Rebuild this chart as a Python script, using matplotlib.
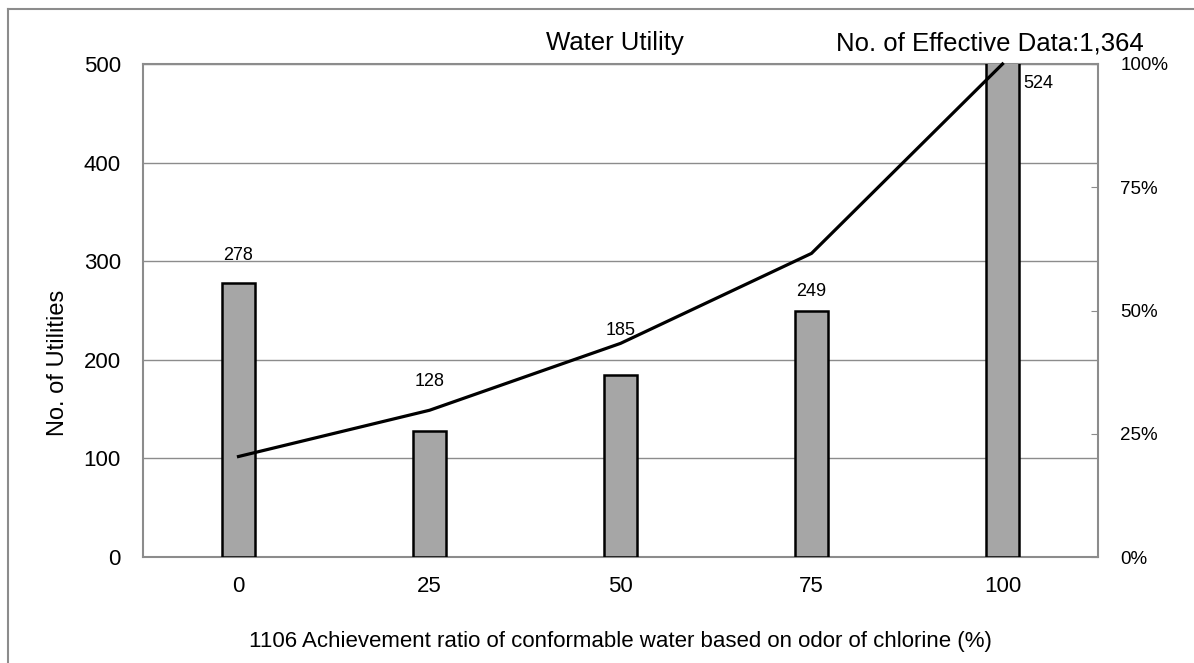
import matplotlib
matplotlib.use("Agg")
import matplotlib.pyplot as plt
from matplotlib.lines import Line2D
import numpy

plt.rcParams['font.family'] = ['Liberation Sans', 'Noto Sans CJK JP', 'DejaVu Sans']

categories = ['0', '25', '50', '75', '100']
counts = [278, 128, 185, 249, 524]
total = 1364
# how far above each bar the count label sits (in utilities)
label_lift = [28, 50, 45, 20, 0]

cum_ratio = numpy.cumsum(counts) / total * 100

fig = plt.figure(figsize=(11.94, 6.63), dpi=100)
ax = fig.add_axes([143 / 1194, 106 / 663, 955 / 1194, 493 / 663])

x = numpy.arange(len(categories))
ax.bar(x, counts, width=0.17, color='#a6a6a6', edgecolor='black', linewidth=1.8, zorder=3)
ax.set_xlim(-0.5, len(categories) - 0.5)
ax.set_ylim(0, 500)
ax.set_yticks([0, 100, 200, 300, 400, 500])
ax.set_xticks(x)
ax.set_xticklabels(categories)
ax.yaxis.grid(True, color='#8c8c8c', linewidth=1.0, zorder=0)
ax.set_axisbelow(True)
ax.tick_params(axis='y', length=0, labelsize=16, pad=16)
ax.tick_params(axis='x', length=0, labelsize=16, pad=14)
for s in ax.spines.values():
    s.set_color('#8c8c8c')
    s.set_linewidth(1.5)

for i, v in enumerate(counts):
    if v > 500:
        ax.text(i + 0.11, 480, str(v), ha='left', va='center', fontsize=13, zorder=5)
    else:
        ax.text(i, v + label_lift[i], str(v), ha='center', va='center', fontsize=13, zorder=5)

ax2 = ax.twinx()
ax2.plot(x, cum_ratio, color='black', linewidth=2.3, zorder=4, clip_on=False)
ax2.set_ylim(0, 100)
ax2.set_yticks([0, 25, 50, 75, 100])
ax2.set_yticklabels(['0%', '25%', '50%', '75%', '100%'])
ax2.tick_params(axis='y', direction='in', length=5, color='#8c8c8c', labelsize=13.5, pad=16)
for s in ax2.spines.values():
    s.set_visible(False)

fig.text(615 / 1194, 1 - 43 / 663, 'Water Utility', ha='center', va='center', fontsize=18.5)
fig.text(836 / 1194, 1 - 43 / 663, 'No. of Effective Data:1,364', ha='left', va='center', fontsize=18.5)
fig.text(58 / 1194, 1 - 363 / 663, 'No. of Utilities', ha='center', va='center', rotation=90, fontsize=17)
fig.text(620 / 1194, 1 - 642 / 663, '1106 Achievement ratio of conformable water based on odor of chlorine (%)',
         ha='center', va='center', fontsize=16)

# outer chart frame
fig.add_artist(Line2D([8 / 1194, 8 / 1194], [0, 1 - 9 / 663], color='#8c8c8c', linewidth=1.5))
fig.add_artist(Line2D([8 / 1194, 1], [1 - 9 / 663, 1 - 9 / 663], color='#8c8c8c', linewidth=1.5))

plt.savefig('out.png', dpi=100)
